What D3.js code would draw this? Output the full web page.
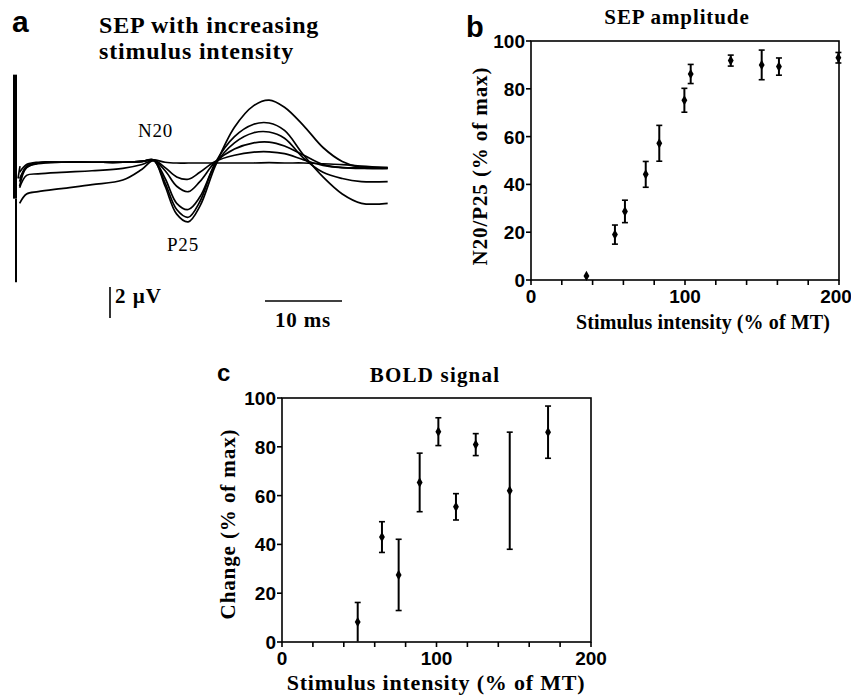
<!DOCTYPE html>
<html>
<head>
<meta charset="utf-8">
<script src="https://cdn.jsdelivr.net/npm/d3@7"></script>
<style>
  body { margin: 0; background: #fff; }
  svg { display: block; }
</style>
</head>
<body>
<div class="figure"></div>
<script>
// ---- panel a: SEP traces (ms, µV, up = N) ----
var sepTime = [0.6, 1.5, 3, 6, 10, 14, 16.5, 18, 19.5, 21, 22.5, 24, 26, 28.5, 31, 33, 35, 37.5, 40, 42.5, 45, 48.4];
var sepTrace0 = [-0.6, -0.1, 0.05, 0.05, 0.05, 0.05, 0.1, 0.2, 0.05, 0, 0, 0, 0, 0, 0, 0.02, 0, 0, -0.05, -0.1, -0.2, -0.3];
var sepTrace1 = [-1.0, -0.3, 0, 0.05, 0.05, 0.05, 0.1, 0.2, -0.3, -0.9, -1.05, -0.6, 0.1, 0.5, 0.7, 0.72, 0.6, 0.2, -0.15, -0.3, -0.3, -0.35];
var sepTrace2 = [-1.6, -0.8, -0.7, -0.6, -0.5, -0.35, -0.1, 0.15, -0.5, -1.5, -1.85, -1.2, 0.05, 0.9, 1.3, 1.35, 1.1, 0.5, -0.1, -0.3, -0.35, -0.3];
var sepTrace3 = [-1.5, -0.3, -0.05, 0.05, 0.05, 0.05, 0.1, 0.2, -1.0, -2.6, -3.0, -2.2, -0.1, 1.3, 1.95, 2.0, 1.6, 0.3, -0.6, -1.0, -1.2, -1.2];
var sepTrace4 = [-2.6, -2.0, -1.85, -1.65, -1.4, -1.1, -0.4, 0.15, -1.3, -3.0, -3.5, -2.5, 0, 1.7, 2.5, 2.58, 2.1, 0.5, -0.9, -2.0, -2.6, -2.6];
var sepTrace5 = [-1.2, -0.2, 0, 0.05, 0.05, 0.05, 0.1, 0.2, -1.5, -3.3, -3.8, -2.8, -0.2, 2.3, 3.7, 4.06, 3.6, 2.4, 1.0, 0.1, -0.3, -0.35];
var artifact = {time: 0, top: 5.7, thickBottom: -2.3, bottom: -7.7};

// ---- panel b: SEP amplitude ----
var sepIntensity = [36, 54.5, 61, 74.5, 83.3, 99.6, 103.7, 129.7, 149.8, 161, 199.6];
var sepAmp = [1.7, 19, 28.7, 44.2, 57.2, 75.2, 86.2, 91.8, 90, 89.3, 93];
var sepErr = [0.4, 4, 4.7, 5.4, 7.5, 5, 4, 2.3, 6.2, 3.6, 2.2];

// ---- panel c: BOLD signal ----
var boldIntensity = [49, 64.7, 75.5, 89.1, 101.2, 112.6, 125.4, 147.4, 172.2];
var boldChange = [8.2, 43, 27.5, 65.4, 86.2, 55.4, 80.9, 62, 86];
var boldErr = [8, 6.3, 14.6, 12, 5.7, 5.4, 4.5, 24, 10.7];

var xTicks = [0, 100, 200];
var yTicks = [0, 20, 40, 60, 80, 100];
var minorTicks = [0, 20, 40, 60, 80, 100, 120, 140, 160, 180, 200];

var SERIF = "'Liberation Serif', 'Times New Roman', Times, serif";
var NARROW = "'Liberation Sans Narrow', 'Arial Narrow', 'Liberation Sans', sans-serif";
var SANS = "'Liberation Sans', Arial, sans-serif";

var svg = d3.select(".figure")
    .append("svg")
    .attr("width", 851)
    .attr("height", 697);

// bold serif text, letter spacing to match the widths in the figure
function serifText(x, y, size, txt, spacing) {
  return svg.append("text")
    .attr("x", x).attr("y", y)
    .attr("font-family", SERIF)
    .attr("font-weight", "bold")
    .attr("font-size", size)
    .attr("letter-spacing", spacing || 0)
    .text(txt);
}

// ===== panel a =====
var tx = d3.scaleLinear().domain([0, 50]).range([15, 400]);
var ty = d3.scaleLinear().domain([-1, 1]).range([178.5, 147.5]); // 15.5 px per µV

var traceLine = d3.line()
    .x(function(d){ return tx(d[0]); })
    .y(function(d){ return ty(d[1]); })
    .curve(d3.curveCatmullRom.alpha(0.5));

[sepTrace0, sepTrace1, sepTrace2, sepTrace3, sepTrace4, sepTrace5].forEach(function(tr){
  svg.append("path")
    .datum(d3.zip(sepTime, tr))
    .attr("fill", "none")
    .attr("stroke", "#000")
    .attr("stroke-width", 1.7)
    .attr("d", traceLine);
});

// stimulus artifact
svg.append("line")
  .attr("x1", tx(artifact.time)).attr("x2", tx(artifact.time))
  .attr("y1", ty(artifact.top)).attr("y2", ty(artifact.thickBottom))
  .attr("stroke", "#000").attr("stroke-width", 4);
svg.append("line")
  .attr("x1", tx(artifact.time) + 1).attr("x2", tx(artifact.time) + 1)
  .attr("y1", ty(artifact.thickBottom)).attr("y2", ty(artifact.bottom))
  .attr("stroke", "#000").attr("stroke-width", 2);
svg.append("line")
  .attr("x1", tx(artifact.time) + 3).attr("x2", tx(artifact.time) + 5)
  .attr("y1", ty(-1.0)).attr("y2", ty(-0.2))
  .attr("stroke", "#000").attr("stroke-width", 1.6);

// scale bars
svg.append("line")
  .attr("x1", 110).attr("x2", 110)
  .attr("y1", 287).attr("y2", 287 + (ty(0) - ty(2)))
  .attr("stroke", "#000").attr("stroke-width", 1.6);
svg.append("line")
  .attr("x1", 265).attr("x2", 265 + (tx(10) - tx(0)))
  .attr("y1", 301).attr("y2", 301)
  .attr("stroke", "#000").attr("stroke-width", 1.6);

svg.append("text").attr("x", 12).attr("y", 32)
  .attr("font-family", SANS).attr("font-weight", "bold").attr("font-size", 30).text("a");
serifText(99, 33, 24, "SEP with increasing", 0.8);
serifText(99, 59, 24, "stimulus intensity", 0.8);
svg.append("text").attr("x", 138).attr("y", 137)
  .attr("font-family", SERIF).attr("font-size", 19).attr("letter-spacing", 0.8).text("N20");
svg.append("text").attr("x", 167).attr("y", 251)
  .attr("font-family", SERIF).attr("font-size", 19).attr("letter-spacing", 0.8).text("P25");
serifText(115, 303, 21, "2 \u00b5V", 1);
serifText(275, 327, 21, "10 ms", 0.8);

// ===== scatter panels =====
function scatterPanel(opt) {
  var x = d3.scaleLinear().domain([0, 200]).range([opt.left, opt.right]);
  var y = d3.scaleLinear().domain([0, 100]).range([opt.bottom, opt.top]);
  var g = svg.append("g");

  // frame
  g.append("rect")
    .attr("x", x(0)).attr("y", y(100))
    .attr("width", x(200) - x(0)).attr("height", y(0) - y(100))
    .attr("fill", "none").attr("stroke", "#000").attr("stroke-width", 1.6);

  // x axis minor ticks + labels
  g.selectAll(".xt").data(minorTicks).enter().append("line")
    .attr("x1", function(d){ return x(d); }).attr("x2", function(d){ return x(d); })
    .attr("y1", y(0)).attr("y2", y(0) + 5)
    .attr("stroke", "#000").attr("stroke-width", 1.6);
  g.selectAll(".xl").data(xTicks).enter().append("text")
    .attr("x", function(d){ return x(d) - (d === 200 ? opt.lastShift : 0); })
    .attr("y", y(0) + 23)
    .attr("text-anchor", "middle")
    .attr("font-family", NARROW).attr("font-weight", "bold")
    .attr("font-size", 19)
    .text(function(d){ return d; });

  // y ticks + labels
  g.selectAll(".yt").data(yTicks).enter().append("line")
    .attr("x1", x(0) - 5).attr("x2", x(0))
    .attr("y1", function(d){ return y(d); }).attr("y2", function(d){ return y(d); })
    .attr("stroke", "#000").attr("stroke-width", 1.6);
  g.selectAll(".yl").data(yTicks).enter().append("text")
    .attr("x", x(0) - 6)
    .attr("y", function(d){ return y(d) + 7; })
    .attr("text-anchor", "end")
    .attr("font-family", NARROW).attr("font-weight", "bold")
    .attr("font-size", 19)
    .text(function(d){ return d; });

  // error bars
  var pts = d3.range(opt.xs.length).map(function(i){
    return {x: opt.xs[i], y: opt.ys[i], e: opt.es[i]};
  });
  var eb = g.selectAll(".eb").data(pts.filter(function(d){ return d.e > 1; })).enter().append("g");
  eb.append("line")
    .attr("x1", function(d){ return x(d.x); }).attr("x2", function(d){ return x(d.x); })
    .attr("y1", function(d){ return y(Math.min(100, d.y + d.e)); })
    .attr("y2", function(d){ return y(Math.max(0, d.y - d.e)); })
    .attr("stroke", "#000").attr("stroke-width", 2);
  eb.append("line")
    .attr("x1", function(d){ return x(d.x) - 3; }).attr("x2", function(d){ return x(d.x) + 3; })
    .attr("y1", function(d){ return y(d.y + d.e); }).attr("y2", function(d){ return y(d.y + d.e); })
    .attr("stroke", "#000").attr("stroke-width", 1.6);
  eb.filter(function(d){ return d.y - d.e > 0.5; }).append("line")
    .attr("x1", function(d){ return x(d.x) - 3; }).attr("x2", function(d){ return x(d.x) + 3; })
    .attr("y1", function(d){ return y(d.y - d.e); }).attr("y2", function(d){ return y(d.y - d.e); })
    .attr("stroke", "#000").attr("stroke-width", 1.6);

  // points
  g.selectAll(".pt").data(pts).enter().append("path")
    .attr("transform", function(d){ return "translate(" + x(d.x) + "," + y(d.y) + ")"; })
    .attr("d", d3.symbol().type(d3.symbolDiamond).size(30))
    .attr("fill", "#000");

  // labels
  svg.append("text")
    .attr("x", opt.letterX).attr("y", opt.letterY)
    .attr("font-family", SANS).attr("font-weight", "bold").attr("font-size", opt.letterSize)
    .text(opt.letter);
  serifText(opt.titleX, opt.titleY, 21, opt.title, opt.titleSp)
    .attr("text-anchor", "middle");
  serifText(0, 0, 21, opt.yLabel, opt.yLabelSp)
    .attr("x", null).attr("y", null)
    .attr("transform", "translate(" + opt.yLabelX + "," + opt.yLabelY + ") rotate(-90)")
    .attr("text-anchor", "middle");
  serifText(opt.xLabelX, opt.xLabelY, opt.xLabelSize, "Stimulus intensity (% of MT)", opt.xLabelSp)
    .attr("text-anchor", "middle");
}

scatterPanel({
  left: 531, right: 839, top: 41, bottom: 280,
  xs: sepIntensity, ys: sepAmp, es: sepErr,
  letter: "b", letterX: 466, letterY: 37, letterSize: 29, lastShift: 3,
  title: "SEP amplitude", titleX: 677, titleY: 24, titleSp: 0.9,
  yLabel: "N20/P25 (% of max)", yLabelX: 487, yLabelY: 166, yLabelSp: 0.9,
  xLabelX: 703, xLabelY: 329, xLabelSize: 20, xLabelSp: 0.1
});

scatterPanel({
  left: 282, right: 591, top: 398, bottom: 642,
  xs: boldIntensity, ys: boldChange, es: boldErr,
  letter: "c", letterX: 217, letterY: 381, letterSize: 24, lastShift: 0,
  title: "BOLD signal", titleX: 435, titleY: 382, titleSp: 1.2,
  yLabel: "Change (% of max)", yLabelX: 235, yLabelY: 524, yLabelSp: 0.9,
  xLabelX: 436, xLabelY: 690, xLabelSize: 22, xLabelSp: 0.8
});
</script>
</body>
</html>
